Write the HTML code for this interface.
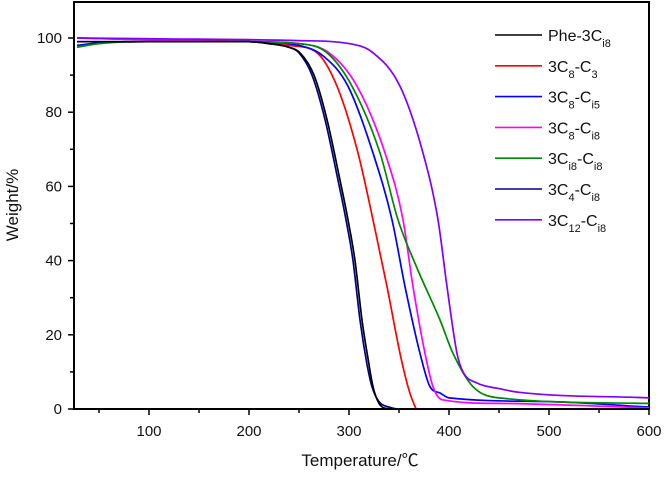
<!DOCTYPE html>
<html><head><meta charset="utf-8"><style>
body{margin:0;background:#fff;}
svg text{font-family:"Liberation Sans","Noto Sans CJK SC",sans-serif;fill:#111;}
</style></head><body>
<svg id="c" width="664" height="474"></svg>
<script>
const tempsBlack=[28,100,200,220,240,251,265,278,290,299,306,313,320,324,330,335,345,600];
const wBlack=[99,99,99,98.5,97.5,96,90,78,63,51,40,24,12,6,1.5,0.3,0,0];
const tempsNavy=[28,100,200,220,240,250,263,276,288,297,304,311,318,323,330,340,350,600];
const wNavy=[99,99,99,98.5,97.5,96,90,78,63,51,40,24,12,6,2,0.5,0,0];
const tempsRed=[28,100,200,240,268,288,309,324,338,351,359,364,368,600];
const wRed=[100,99.5,99,98,96,87,69,51,33,15,6,2,0,0];
const tempsBlue=[28,50,100,200,250,275,299,324,343,356,371,381,391,400,500,600];
const wBlue=[98,98.7,99,99,98,95,87,69,51,33,15,6,4.3,3,2,0.5];
const tempsMag=[28,100,200,250,280,308,336,354,364,376,384,393,450,600];
const wMag=[100,99.5,99,98.5,96,87,69,51,33,15,6,2.5,1.5,0.3];
const tempsGreen=[28,50,100,200,250,278,303,331,349,368,391,404,424,450,600];
const wGreen=[97.5,98.5,99,99,98.5,96,87,69,51,38,24,15,6,3,1.5];
const tempsPurple=[28,100,250,300,324,351,374,389,398,408,414,428,450,470,600];
const wPurple=[100,99.8,99.3,98.5,96,87,69,51,33,15,10,7,5.5,4.5,3];
const xTicks=[100,200,300,400,500,600];
const yTicks=[0,20,40,60,80,100];
const legendLabels=[["Phe-3C","i8"],["3C","8","-C","3"],["3C","8","-C","i5"],["3C","8","-C","i8"],["3C","i8","-C","i8"],["3C","4","-C","i8"],["3C","12","-C","i8"]];
const colors=["#000","#f00","#00f","#f0f","#080","#00008b","#8000ff"];
const series=[[tempsRed,wRed,"#f00"],[tempsBlue,wBlue,"#00f"],[tempsMag,wMag,"#f0f"],[tempsGreen,wGreen,"#080"],[tempsPurple,wPurple,"#8000ff"],[tempsNavy,wNavy,"#00008b"],[tempsBlack,wBlack,"#000"]];
const names=["3c8-c3","3c8-ci5","3c8-ci8","3ci8-ci8","3c12-ci8","3c4-ci8","phe-3ci8"];
const legNames=["phe-3ci8","3c8-c3","3c8-ci5","3c8-ci8","3ci8-ci8","3c4-ci8","3c12-ci8"];
const NS="http://www.w3.org/2000/svg";
const svg=document.getElementById('c');
const X=t=>49+t, Y=w=>409-w*3.71;
function mk(tag,attrs,parent){const e=document.createElementNS(NS,tag);for(const k in attrs)e.setAttribute(k,attrs[k]);(parent||svg).appendChild(e);return e;}
function monotonePath(xs,ys){
 const n=xs.length,dx=[],s=[],m=[];
 for(let i=0;i<n-1;i++){dx[i]=xs[i+1]-xs[i];s[i]=(ys[i+1]-ys[i])/dx[i];}
 m[0]=s[0];m[n-1]=s[n-2];
 for(let i=1;i<n-1;i++){m[i]=(s[i-1]*s[i]<=0)?0:(s[i-1]+s[i])/2;}
 for(let i=0;i<n-1;i++){
  if(s[i]===0){m[i]=0;m[i+1]=0;continue;}
  const a=m[i]/s[i],b=m[i+1]/s[i],h=a*a+b*b;
  if(h>9){const t=3/Math.sqrt(h);m[i]=t*a*s[i];m[i+1]=t*b*s[i];}
 }
 let d='M'+X(xs[0]).toFixed(1)+','+Y(ys[0]).toFixed(1);
 for(let i=0;i<n-1;i++){
  const h=dx[i]/3;
  d+=' C'+X(xs[i]+h).toFixed(1)+','+Y(ys[i]+m[i]*h).toFixed(1)+' '+X(xs[i+1]-h).toFixed(1)+','+Y(ys[i+1]-m[i+1]*h).toFixed(1)+' '+X(xs[i+1]).toFixed(1)+','+Y(ys[i+1]).toFixed(1);
 }
 return d;
}
const fr=mk('rect',{x:X(25),y:2,width:X(600)-X(25),height:Y(0)-2,fill:'none',stroke:'#000','stroke-width':2});


xTicks.forEach(t=>{
 const l=mk('line',{x1:X(t),x2:X(t),y1:Y(0),y2:Y(0)+6,stroke:'#000','stroke-width':1.5});
 
 
 const m=mk('line',{x1:X(t-50),x2:X(t-50),y1:Y(0),y2:Y(0)+4,stroke:'#000','stroke-width':1.5});
 
 
 const tx=mk('text',{x:X(t),y:Y(0)+27,'text-anchor':'middle','font-size':15});
 tx.textContent=t;
 
 
});
yTicks.forEach(v=>{
 const l=mk('line',{x1:X(25)-6,x2:X(25),y1:Y(v),y2:Y(v),stroke:'#000','stroke-width':1.5});
 
 
 if(v<100){const m=mk('line',{x1:X(25)-4,x2:X(25),y1:Y(v+10),y2:Y(v+10),stroke:'#000','stroke-width':1.5});
 
 }
 const tx=mk('text',{x:X(25)-12,y:Y(v)+5,'text-anchor':'end','font-size':15});
 tx.textContent=v;
 
 
});
series.forEach((s,i)=>{
 const p=mk('path',{d:monotonePath(s[0],s[1]),fill:'none',stroke:s[2],'stroke-width':1.7,'stroke-linejoin':'round'});
 
 
});
legendLabels.forEach((lab,i)=>{
 const y=35+i*30.8;
 const g=mk('g',{});
 
 
 mk('line',{x1:495,x2:542,y1:y,y2:y,stroke:colors[i],'stroke-width':1.6},g);
 const t=mk('text',{x:548,y:y+6,'font-size':16},g);
 lab.forEach((s,k)=>{const ts=mk('tspan',{},t);ts.textContent=s;
  if(k%2==1){ts.setAttribute('font-size',11);ts.setAttribute('dy',6);}
  else if(k>0){ts.setAttribute('dy',-6);}
 });
});
const xt=mk('text',{x:360,y:466,'text-anchor':'middle','font-size':17});
xt.textContent='Temperature/℃';


const yt=mk('text',{x:18,y:205,'text-anchor':'middle','font-size':17,transform:'rotate(-90 18 205)'});
yt.textContent='Weight/%';


</script>
</body></html>
